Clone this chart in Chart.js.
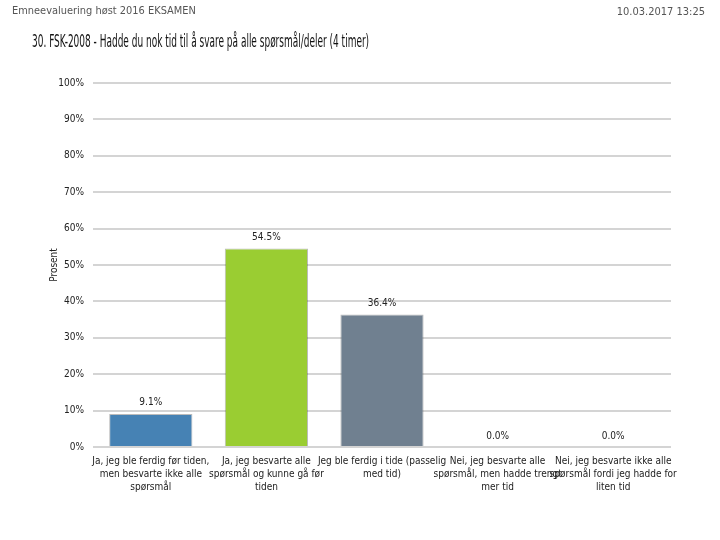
<!DOCTYPE html>
<html>
<head>
<meta charset="utf-8">
<script src="https://cdn.jsdelivr.net/npm/chart.js@4"></script>
<style>
    body { margin: 0; background: #fff; }
    #wrap { position: relative; width: 720px; height: 540px; overflow: hidden; }
    #chartBox { position: absolute; left: 0; top: 0; width: 720px; height: 540px; }
    .hdr { position: absolute; font-family: "Liberation Sans Narrow", "DejaVu Sans Condensed", sans-serif; white-space: nowrap; }
    #survey { left: 12px; top: 4px; font-size: 11px; color: #555; transform-origin: left top; }
    #stamp { right: 15px; top: 5px; font-size: 11px; color: #555; }
    #title { left: 32px; top: 31px; font-size: 17px; color: #111; transform-origin: left top; }
</style>
</head>
<body>
<div id="wrap">
    <div id="chartBox"><canvas id="timeChart"></canvas></div>
    <div class="hdr" id="survey">Emneevaluering høst 2016 EKSAMEN</div>
    <div class="hdr" id="stamp">10.03.2017 13:25</div>
    <div class="hdr" id="title">30. FSK-2008 - Hadde du nok tid til å svare på alle spørsmål/deler (4 timer)</div>
</div>
<script>
// Answer categories (multi-line tick labels)
const categories = [
    ['Ja, jeg ble ferdig før tiden,', 'men besvarte ikke alle', 'spørsmål'],
    ['Ja, jeg besvarte alle', 'spørsmål og kunne gå før', 'tiden'],
    ['Jeg ble ferdig i tide (passelig', 'med tid)'],
    ['Nei, jeg besvarte alle', 'spørsmål, men hadde trengt', 'mer tid'],
    ['Nei, jeg besvarte ikke alle', 'spørsmål fordi jeg hadde for', 'liten tid']
];
const percentages = [9.1, 54.5, 36.4, 0.0, 0.0];
const barColors = ['#4682B4', '#9ACD32', '#708090', '#4682B4', '#9ACD32'];
const yTicks = [0, 10, 20, 30, 40, 50, 60, 70, 80, 90, 100];

const fontFamily = '"Liberation Sans Narrow", "DejaVu Sans Condensed", sans-serif';

// squeeze the header texts to the widths they have in the original
function fitWidth(id, width) {
    const el = document.getElementById(id);
    el.style.transform = 'scaleX(' + (width / el.offsetWidth) + ')';
}
fitWidth('title', 337);
fitWidth('survey', 184);

// Value labels above the bars
const valueLabels = {
    id: 'valueLabels',
    afterDatasetsDraw(chart) {
        const ctx = chart.ctx;
        const meta = chart.getDatasetMeta(0);
        ctx.save();
        ctx.font = '10px ' + fontFamily;
        ctx.fillStyle = '#222';
        ctx.textAlign = 'center';
        ctx.textBaseline = 'middle';
        meta.data.forEach((bar, i) => {
            ctx.fillText(percentages[i].toFixed(1) + '%', bar.x, bar.y - 11);
        });
        ctx.restore();
    }
};

function createTimeChart() {
    const ctx = document.getElementById('timeChart').getContext('2d');
    new Chart(ctx, {
        type: 'bar',
        data: {
            labels: categories,
            datasets: [{
                data: percentages,
                backgroundColor: barColors,
                borderColor: 'rgba(60, 60, 60, 0.35)',
                borderWidth: 1,
                barPercentage: 0.72,
                categoryPercentage: 1.0
            }]
        },
        options: {
            responsive: true,
            maintainAspectRatio: false,
            animation: false,
            layout: {
                padding: { left: 48, right: 49, top: 83, bottom: 33 }
            },
            plugins: {
                legend: { display: false },
                tooltip: { enabled: false }
            },
            scales: {
                x: {
                    grid: { display: false },
                    border: { display: false },
                    ticks: {
                        color: '#222',
                        font: { family: fontFamily, size: 10, lineHeight: 1.3 },
                        maxRotation: 0,
                        autoSkip: false,
                        padding: 0
                    },
                    afterFit(scale) { scale.height = 60; }
                },
                y: {
                    min: 0,
                    max: 100,
                    afterBuildTicks(scale) {
                        scale.ticks = yTicks.map(v => ({ value: v }));
                    },
                    grid: {
                        color: '#d4d4d4',
                        lineWidth: 2,
                        drawTicks: false
                    },
                    border: { display: false },
                    ticks: {
                        color: '#222',
                        font: { family: fontFamily, size: 10 },
                        padding: 9,
                        callback: v => v + '%'
                    },
                    title: {
                        display: true,
                        text: 'Prosent',
                        color: '#222',
                        font: { family: fontFamily, size: 10 },
                        padding: { top: 0, bottom: 8 }
                    },
                    afterFit(scale) { scale.width = 45; }
                }
            }
        },
        plugins: [valueLabels]
    });
}

document.addEventListener('DOMContentLoaded', createTimeChart);
</script>
</body>
</html>
